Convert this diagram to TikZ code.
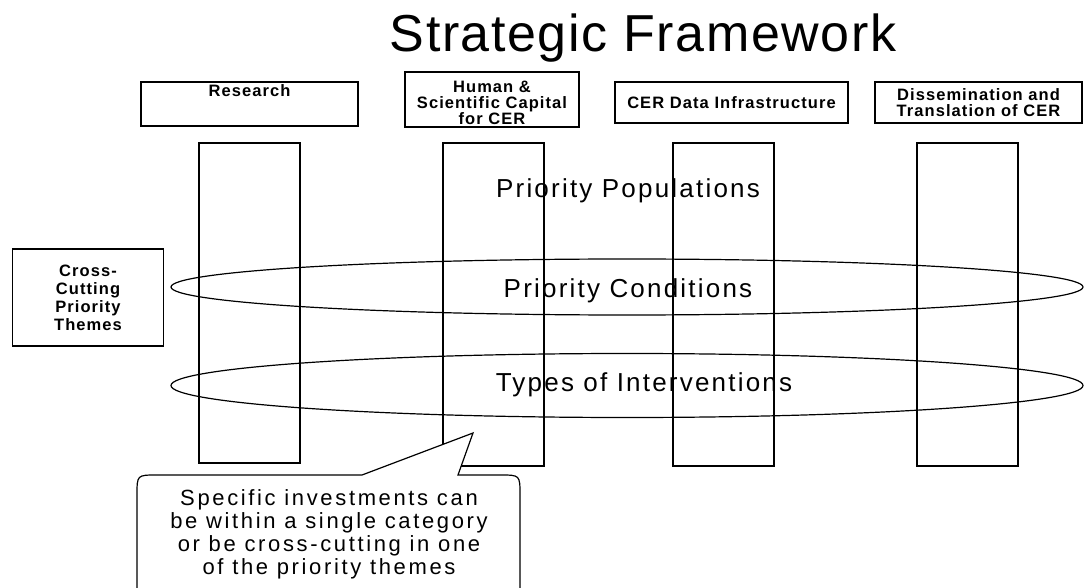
\documentclass[tikz,border=0pt]{standalone}
\usepackage{fontspec}
\usepackage{tikz}
\usetikzlibrary{shapes.geometric}
\setmainfont{Liberation Sans}
\newfontfamily\titlefont{Liberation Sans}[LetterSpace=3]
\newfontfamily\themefont{Liberation Sans}[LetterSpace=8.5]
\newfontfamily\notefont{Liberation Sans}[LetterSpace=12]
\newfontfamily\headfont{Liberation Sans}[LetterSpace=6.5]

\begin{document}
\begin{tikzpicture}[x=1pt, y=-1pt, line width=1.2pt,
    headbox/.style={draw, rectangle, inner sep=2pt, align=center,
        font=\headfont\bfseries\fontsize{16.5}{15.8}\selectfont},
    headtext/.style={inner sep=3pt, align=center, font=\headfont\bfseries\fontsize{16.5}{15.8}\selectfont},
    column/.style={draw, rectangle, inner sep=0pt, minimum width=101pt},
    band/.style={draw, ellipse, inner sep=0pt, minimum width=912pt},
    theme/.style={anchor=base, font=\themefont\fontsize{26}{30}\selectfont},
    callout/.style={draw, fill=white}]
            \useasboundingbox (0,0) rectangle (1085,588);
            \node at (643,52) [anchor=base, font=\titlefont\fontsize{52}{58}\selectfont] (title) {Strategic Framework};

            % the four investment categories
            \node at (249.5,104) [headbox, minimum width=217pt, minimum height=44pt] (research) {};
            \node at (research.north) [headtext, anchor=north] (researchtext) {Research};
            \node at (492,99.5) [headbox, minimum width=174pt, minimum height=55pt] (human) {};
            \node at (492,103) [headtext] (humantext) {Human \&\\Scientific Capital\\for CER};
            \node at (731.5,102.5) [headbox, minimum width=233pt, minimum height=41pt] (cerdata) {CER Data Infrastructure};
            \node at (978.5,102.5) [headbox, minimum width=207pt, minimum height=41pt] (dissem) {Dissemination and\\Translation of CER};

            \node at (249.5,303) [column, minimum height=320pt] (col1) {};
            \node at (493.5,304.5) [column, minimum height=323pt] (col2) {};
            \node at (723.5,304.5) [column, minimum height=323pt] (col3) {};
            \node at (967.5,304.5) [column, minimum height=323pt] (col4) {};

            % cross-cutting themes
            \node at (88,297.5) [headbox, minimum width=151.5pt, minimum height=97pt,
                font=\headfont\bfseries\fontsize{16.5}{18}\selectfont] (themes) {Cross-\\Cutting\\Priority\\Themes};
            \node at (627,287) [band, minimum height=56pt] (conditions) {};
            \node at (627,385.5) [band, minimum height=64pt] (interventions) {};
            \node at (628,198) [theme] (populationstext) {Priority Populations};
            \node at (628,298) [theme] (conditionstext) {Priority Conditions};
            \node at (644,391) [theme] (interventionstext) {Types of Interventions};

            \draw[callout] (362,475) -- (473,433) -- (458,475) -- (500,475) .. controls (520,475) .. (520,495)
                -- (520,585) .. controls (520,605) .. (500,605) -- (157,605) .. controls (137,605) .. (137,585)
                -- (137,495) .. controls (137,475) .. (157,475) -- cycle;
            \node at (329,488.5) [anchor=north, inner sep=0pt, align=center,
                font=\notefont\fontsize{22}{23.3}\selectfont] (note) {Specific investments can\\be within a single category\\or be cross-cutting in one\\of the priority themes};
        \end{tikzpicture}
\end{document}
